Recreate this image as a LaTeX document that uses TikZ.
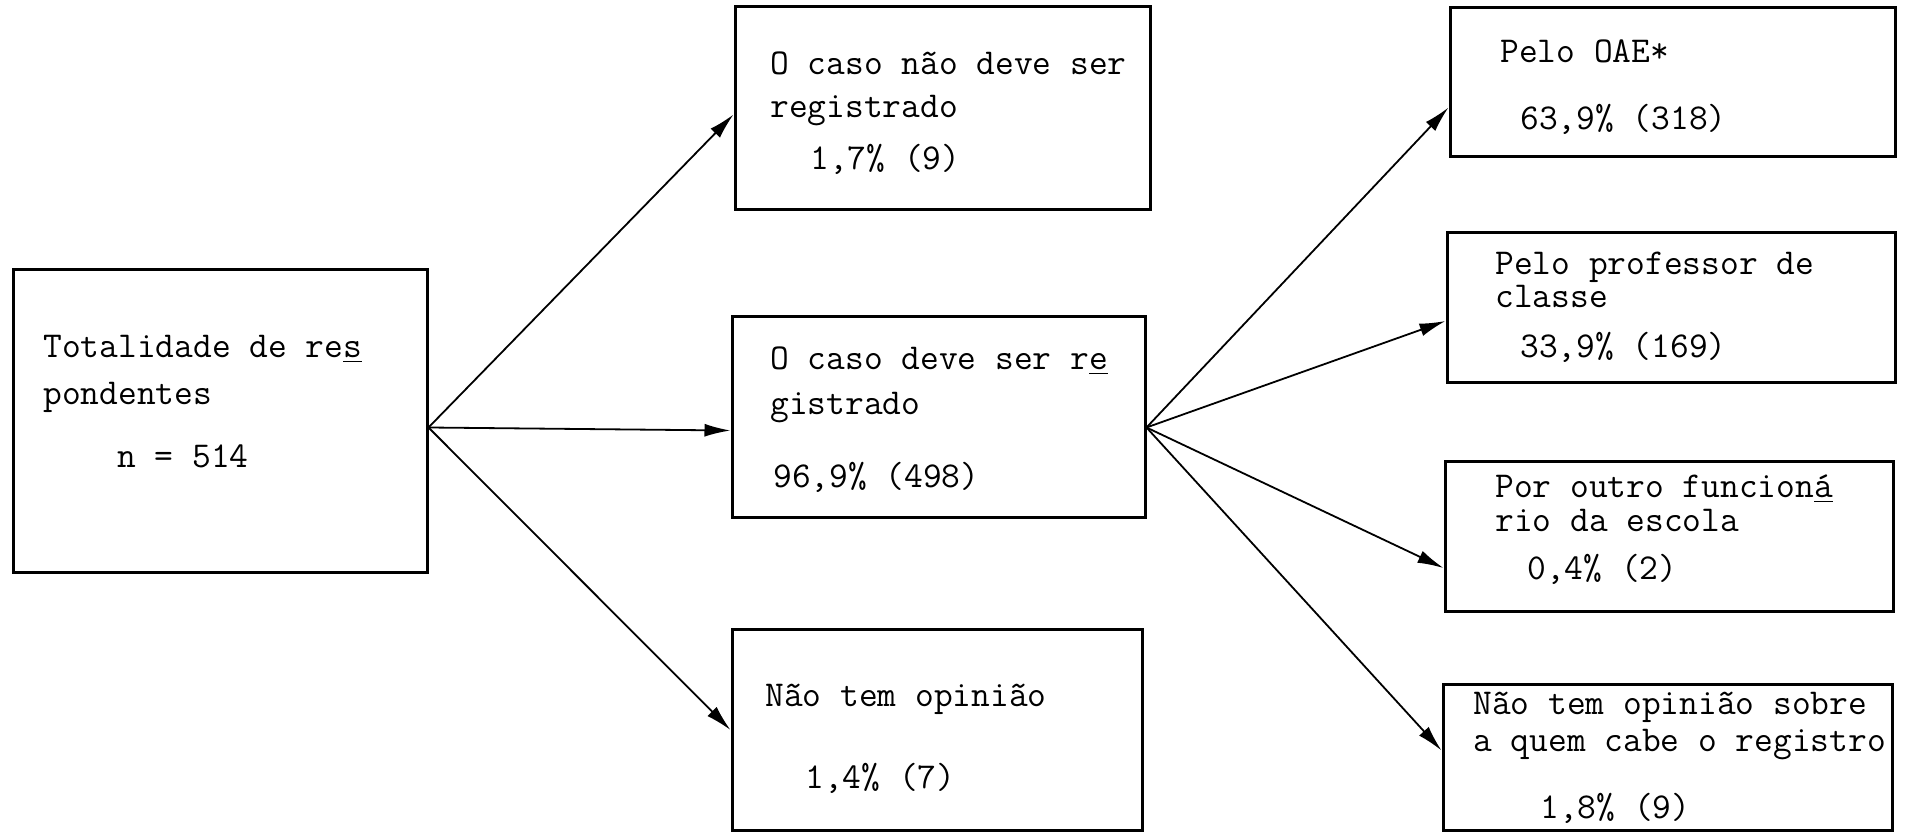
\documentclass[tikz,border=0pt]{standalone}
\usepackage{fontspec}
\usetikzlibrary{arrows.meta,fit,calc}
\begin{document}
\begin{tikzpicture}[x=0.5pt,y=-0.5pt,
  box/.style={draw, line width=1.5pt, inner sep=0pt, rectangle},
  txt/.style={anchor=base west, inner sep=0pt, font=\ttfamily\fontsize{18.2}{20}\selectfont},
  arr/.style={line width=0.9pt, -{Latex[length=13pt,width=6.5pt]}}]
\useasboundingbox (0,0) rectangle (1907,833);
% boxes
\node[box, fit={(13,270) (427,573)}] (A) {};
\node[box, fit={(735,7) (1150,210)}] (C1) {};
\node[box, fit={(732,317) (1145,518)}] (B) {};
\node[box, fit={(732,630) (1142,830)}] (C3) {};
\node[box, fit={(1450,8) (1895,157)}] (D1) {};
\node[box, fit={(1447,233) (1895,383)}] (D2) {};
\node[box, fit={(1445,462) (1893,612)}] (D3) {};
\node[box, fit={(1443,685) (1892,830)}] (D4) {};
% texts
\node[txt] (a1) at (43,358) {Totalidade de re\underline{s}};
\node[txt] (a2) at (43,405) {pondentes};
\node[txt] (a3) at (117,468) {n = 514};
\node[txt] (c11) at (770,75) {O caso não deve ser};
\node[txt] (c12) at (770,118) {registrado};
\node[txt] (c13) at (810,170) {1,7\% (9)};
\node[txt] (b1) at (770,370) {O caso deve ser r\underline{e}};
\node[txt] (b2) at (770,415) {gistrado};
\node[txt] (b3) at (773,488) {96,9\% (498)};
\node[txt] (c31) at (765,707) {Não tem opinião};
\node[txt] (c32) at (805,788) {1,4\% (7)};
\node[txt] (d11) at (1500,63) {Pelo OAE*};
\node[txt] (d12) at (1520,130) {63,9\% (318)};
\node[txt] (d21) at (1495,275) {Pelo professor de};
\node[txt] (d22) at (1495,308) {classe};
\node[txt] (d23) at (1520,358) {33,9\% (169)};
\node[txt] (d31) at (1495,498) {Por outro funcion\underline{á}};
\node[txt] (d32) at (1495,532) {rio da escola};
\node[txt] (d33) at (1527,580) {0,4\% (2)};
\node[txt] (d41) at (1473,715) {Não tem opinião sobre};
\node[txt] (d42) at (1473,752) {a quem cabe o registro};
\node[txt] (d43) at (1540,818) {1,8\% (9)};
% connectors
\draw[arr] ([yshift=-3pt]A.east) -- ([yshift=-3pt]C1.west);
\draw[arr] ([yshift=-3pt]A.east) -- ([yshift=-6.5pt]B.west);
\draw[arr] ([yshift=-3pt]A.east) -- (C3.west);
\draw[arr] ([yshift=-5pt]B.east) -- ([yshift=-12.5pt]D1.west);
\draw[arr] ([yshift=-5pt]B.east) -- ([yshift=-6.5pt]D2.west);
\draw[arr] ([yshift=-5pt]B.east) -- ([yshift=-15.5pt]D3.west);
\draw[arr] ([yshift=-5pt]B.east) -- ([yshift=3.5pt]D4.west);
\end{tikzpicture}
\end{document}
